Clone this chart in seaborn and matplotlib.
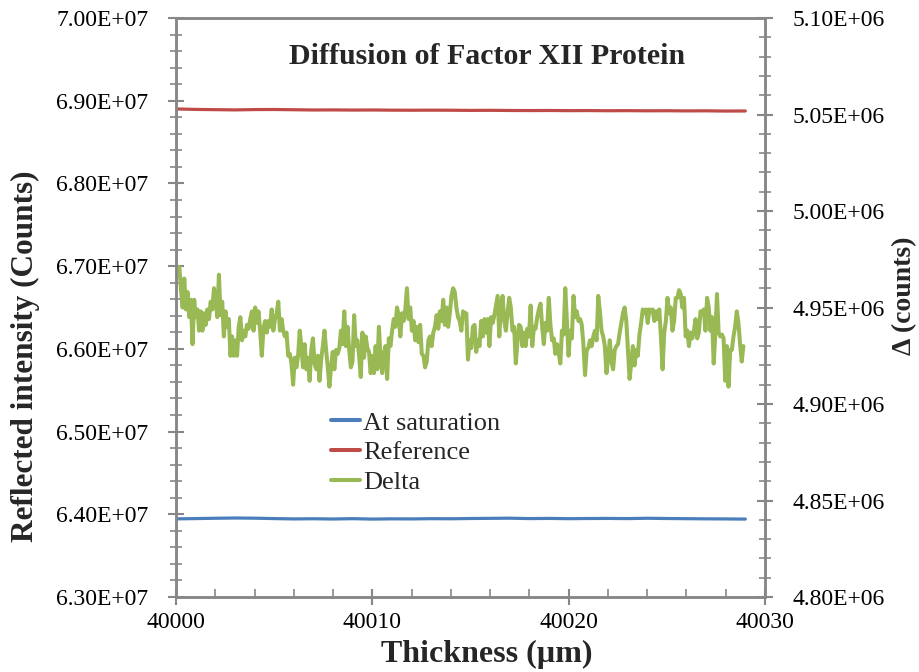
import numpy as np
import pandas as pd
import matplotlib
matplotlib.use("Agg")
import matplotlib.pyplot as plt
from matplotlib.ticker import MultipleLocator, FuncFormatter
from matplotlib.lines import Line2D
import seaborn as sns

# ---------------- data ----------------
title = "Diffusion of Factor XII Protein"
x_label = "Thickness (µm)"
y_left_label = "Reflected intensity (Counts)"
y_right_label = "Δ (counts)"
series_names = ["At saturation", "Reference", "Delta"]

x_ticks = [40000, 40010, 40020, 40030]
y_left_ticks = [6.3e7, 6.4e7, 6.5e7, 6.6e7, 6.7e7, 6.8e7, 6.9e7, 7.0e7]
y_right_ticks = [4.80e6, 4.85e6, 4.90e6, 4.95e6, 5.00e6, 5.05e6, 5.10e6]

# thickness positions of the slow series (µm)
thick_slow = [40000.1, 40001, 40002, 40003, 40004, 40005, 40006, 40007, 40008, 40009,
              40010, 40011, 40012, 40013, 40014, 40015, 40016, 40017, 40018, 40019,
              40020, 40021, 40022, 40023, 40024, 40025, 40026, 40027, 40028, 40029]

# At saturation (1e7 counts)
saturation_e7 = [6.3945, 6.3948, 6.3952, 6.3955, 6.3953, 6.3948, 6.3944, 6.3946, 6.3943, 6.3947,
                 6.3942, 6.3945, 6.3944, 6.3947, 6.3946, 6.3949, 6.3951, 6.3953, 6.3948, 6.3950,
                 6.3947, 6.3949, 6.3950, 6.3948, 6.3952, 6.3949, 6.3947, 6.3945, 6.3944, 6.3942]

# Reference (1e7 counts)
reference_e7 = [6.8900, 6.8895, 6.8892, 6.8889, 6.8893, 6.8894, 6.8891, 6.8888, 6.8889, 6.8887,
                6.8888, 6.8886, 6.8885, 6.8886, 6.8885, 6.8883, 6.8884, 6.8882, 6.8881, 6.8882,
                6.8880, 6.8881, 6.8879, 6.8880, 6.8878, 6.8879, 6.8877, 6.8878, 6.8875, 6.8876]

# Delta (thousands of counts), sampled uniformly from 40000.17 to 40028.9 µm
delta_k = [
    4971, 4959, 4950, 4965, 4949, 4958, 4945, 4954, 4931, 4954, 4945, 4949, 4938, 4948, 4938,
    4947, 4941, 4949, 4944, 4953, 4949, 4960, 4954, 4945, 4967, 4946, 4953, 4935, 4948, 4940,
    4944, 4925, 4935, 4925, 4933, 4925, 4940, 4945, 4933, 4938, 4935, 4941, 4939, 4944, 4948,
    4938, 4950, 4942, 4948, 4938, 4925, 4939, 4943, 4937, 4943, 4940, 4949, 4938, 4944, 4947,
    4953, 4938, 4944, 4938, 4935, 4937, 4925, 4926, 4921, 4910, 4924, 4919, 4925, 4938, 4930,
    4919, 4931, 4918, 4924, 4912, 4928, 4934, 4921, 4918, 4925, 4912, 4923, 4930, 4938, 4928,
    4919, 4909, 4919, 4927, 4918, 4928, 4926, 4929, 4938, 4931, 4948, 4930, 4940, 4928, 4919,
    4922, 4946, 4930, 4933, 4925, 4914, 4937, 4924, 4935, 4929, 4927, 4916, 4925, 4916, 4930,
    4918, 4940, 4924, 4916, 4926, 4930, 4913, 4934, 4930, 4938, 4944, 4940, 4950, 4946, 4935,
    4947, 4943, 4949, 4960, 4944, 4950, 4938, 4943, 4933, 4940, 4932, 4941, 4926, 4925, 4919,
    4922, 4933, 4935, 4930, 4937, 4940, 4946, 4939, 4948, 4943, 4954, 4941, 4950, 4940, 4947,
    4956, 4960, 4958, 4950, 4945, 4943, 4938,
    4948, 4947, 4947, 4923, 4933, 4929, 4940, 4941, 4927, 4933, 4930, 4943, 4935, 4944, 4937,
    4944, 4930, 4945, 4942, 4946, 4951, 4956, 4935, 4951, 4956, 4943, 4938, 4947, 4955, 4950,
    4938, 4940, 4921, 4932, 4941, 4940, 4930, 4937, 4930, 4939, 4935, 4951, 4930, 4940, 4939,
    4945, 4949, 4952, 4940, 4931, 4942, 4938, 4955, 4941, 4933, 4934, 4926, 4931, 4927, 4921,
    4938, 4936, 4960, 4943, 4925, 4938, 4934, 4956, 4945, 4948, 4943, 4944, 4941, 4931, 4915,
    4928, 4929, 4933, 4930, 4935, 4938, 4933, 4956, 4948, 4938, 4935, 4930, 4916, 4924, 4933,
    4922, 4918, 4928, 4930, 4931, 4937, 4942, 4947, 4950, 4943, 4928, 4913, 4921, 4930, 4920,
    4928, 4925, 4936, 4942, 4949, 4947, 4949, 4942, 4949, 4948, 4949, 4943, 4948, 4944, 4949,
    4935, 4918, 4937, 4943, 4955, 4947, 4950, 4938, 4943, 4955, 4955, 4959, 4957, 4950, 4955,
    4935, 4938, 4930, 4937, 4934, 4938, 4944, 4934, 4937, 4948, 4947, 4949, 4938, 4955, 4950,
    4938, 4945, 4921, 4937, 4957, 4937, 4935, 4936, 4934, 4912, 4930, 4909, 4928, 4928, 4935,
    4940, 4948, 4942, 4931, 4922, 4930,
]
delta_start, delta_end = 40000.17, 40028.9

colors = {"At saturation": "#4A7EBB", "Reference": "#BE4B48", "Delta": "#98B954"}

# ---------------- tables ----------------
slow = pd.DataFrame({
    "thickness": thick_slow * 2,
    "value": [v * 1e7 for v in saturation_e7] + [v * 1e7 for v in reference_e7],
    "series": ["At saturation"] * len(thick_slow) + ["Reference"] * len(thick_slow),
})
delta = pd.DataFrame({
    "thickness": np.linspace(delta_start, delta_end, len(delta_k)),
    "value": [v * 1e3 for v in delta_k],
    "series": "Delta",
})

# ---------------- plotting ----------------
sns.set_style("white")
plt.rcParams["font.family"] = ["Liberation Serif", "DejaVu Serif"]

fig = plt.figure(figsize=(9.2, 6.72), dpi=100)
ax = fig.add_axes([0.1913, 0.1116, 0.6402, 0.8616])
ax2 = ax.twinx()

sns.lineplot(data=slow, x="thickness", y="value", hue="series",
             palette=colors, hue_order=["At saturation", "Reference"],
             linewidth=2.3, ax=ax, legend=False, sort=False)
sns.lineplot(data=delta, x="thickness", y="value", hue="series",
             palette=colors, linewidth=2.9, ax=ax2, legend=False, sort=False)

ax.set_xlim(40000, 40030)
ax.set_ylim(6.3e7, 7.0e7)
ax2.set_ylim(4.8e6, 5.1e6)

ax.set_xticks(x_ticks)
ax.xaxis.set_minor_locator(MultipleLocator(2))
ax.set_yticks(y_left_ticks)
ax.yaxis.set_minor_locator(MultipleLocator(2e5))
ax2.set_yticks(y_right_ticks)
ax2.yaxis.set_minor_locator(MultipleLocator(1e4))

fmt = FuncFormatter(lambda v, p: f"{v:.2E}")
ax.yaxis.set_major_formatter(fmt)
ax2.yaxis.set_major_formatter(fmt)
ax.xaxis.set_major_formatter(FuncFormatter(lambda v, p: f"{int(round(v))}"))

grey = "#878787"
for a in (ax, ax2):
    for s in a.spines.values():
        s.set_color(grey)
        s.set_linewidth(1.8)
    a.tick_params(axis="y", which="major", direction="inout", length=12, width=1.5,
                  color=grey, labelsize=17, labelcolor="black", pad=14)
    a.tick_params(axis="y", which="minor", direction="inout", length=9, width=1.2,
                  color=grey)
ax.tick_params(axis="x", which="major", direction="inout", length=12, width=1.5,
               color=grey, labelsize=17, labelcolor="black", pad=5)
ax.tick_params(axis="x", which="minor", direction="in", length=6, width=1.2, color=grey)
ax.tick_params(axis="y", which="both", left=True, right=False)
ax.tick_params(axis="x", which="both", bottom=True, top=False)
ax2.tick_params(axis="y", which="both", left=False, right=True)

ax.set_xlabel(x_label, fontsize=23, fontweight="bold")
ax.xaxis.set_label_coords(0.527, -0.100)
ax.xaxis.label.set_va("center")
ax.set_ylabel(y_left_label, fontsize=22.5, fontweight="bold")
ax.yaxis.set_label_coords(-0.256, 0.415)
ax.yaxis.label.set_va("center")
ax2.set_ylabel(y_right_label, fontsize=20, fontweight="bold")
ax2.yaxis.set_label_coords(1.2377, 0.52)
ax2.yaxis.label.set_va("center")

ax.text(0.528, 0.934, title, transform=ax.transAxes, ha="center", va="center",
        fontsize=21.5, fontweight="bold")

handles = [Line2D([], [], color=colors[n], linewidth=2.9) for n in series_names]
ax.legend(handles, series_names, loc="upper left", bbox_to_anchor=(0.2635, 0.321),
          frameon=False, fontsize=19, handlelength=1.1, handletextpad=0.1,
          labelspacing=0.24, borderaxespad=0, borderpad=0)

fig.savefig("out.png", dpi=100)
